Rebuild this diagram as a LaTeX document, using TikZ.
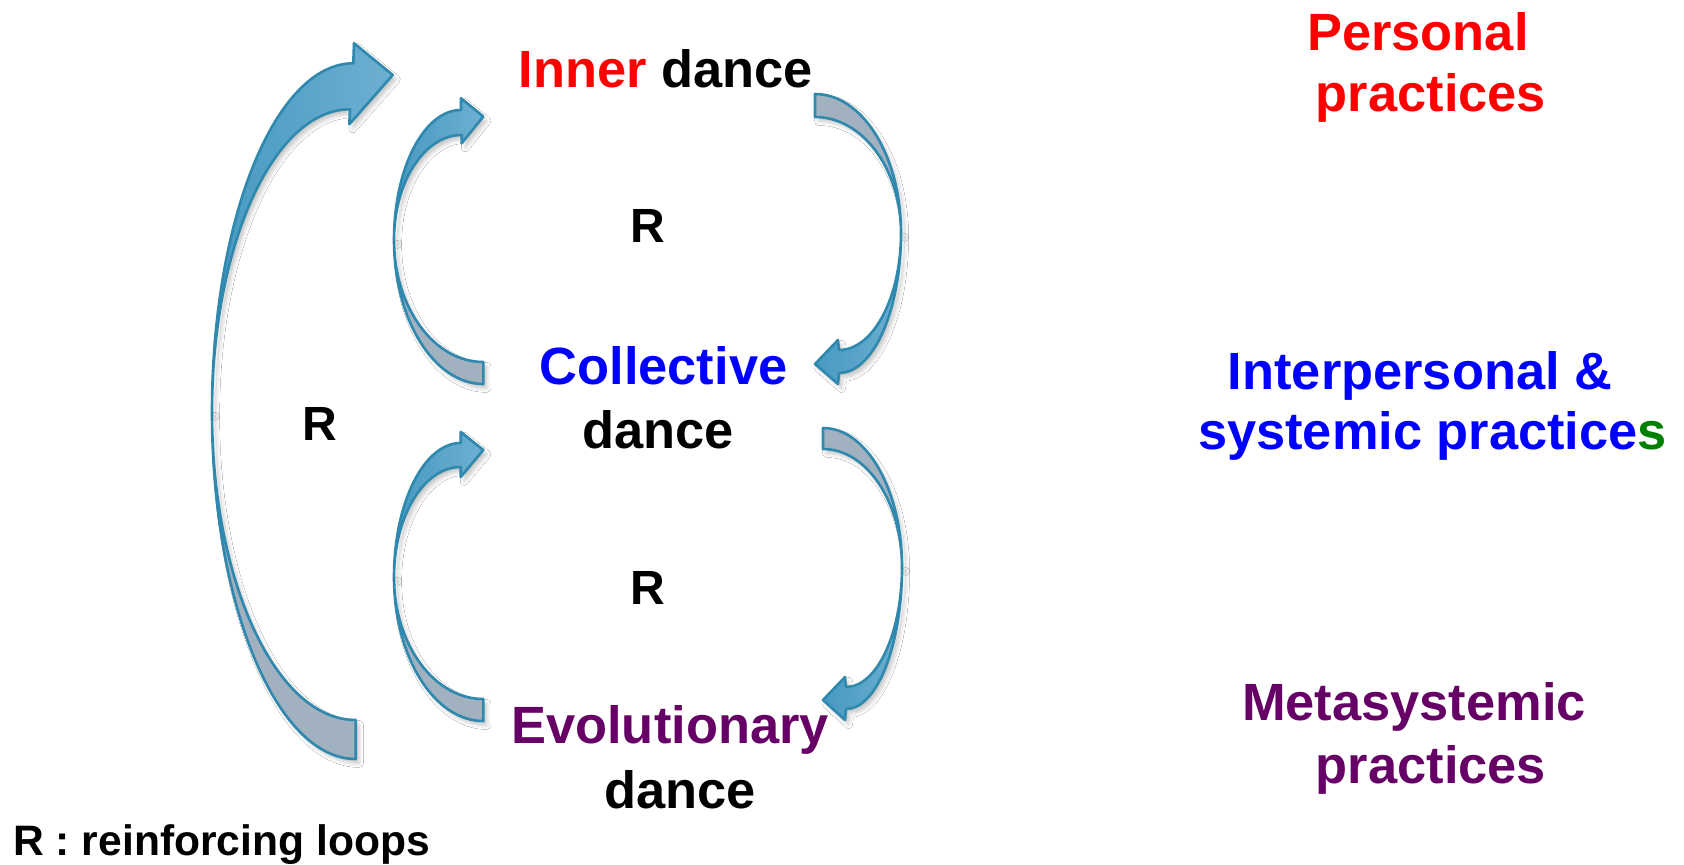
\documentclass[tikz,border=0pt]{standalone}
\usepackage{fontspec}
\setmainfont{Liberation Sans}
\usetikzlibrary{shadows.blur}
\definecolor{arrowblue}{HTML}{4799C1}
\definecolor{arrowlight}{HTML}{6DB0D1}
\definecolor{arrowgrey}{HTML}{A1B1BF}
\definecolor{arrowline}{HTML}{2F88AE}
\definecolor{tred}{HTML}{FF0000}
\definecolor{tblue}{HTML}{0000FF}
\definecolor{tpurple}{HTML}{660066}
\definecolor{tgreen}{HTML}{008000}
\begin{document}
\begin{tikzpicture}[x=0.5pt,y=-0.5pt,
  arrowshadow/.style={blur shadow={shadow xshift=1.8pt, shadow yshift=-2.2pt, shadow opacity=22, shadow blur radius=2pt}},
  front/.style={draw=arrowline, line width=1.3pt, line join=round, left color=arrowblue, right color=arrowlight, arrowshadow},
  back/.style={draw=arrowline, line width=1.3pt, line join=round, fill=arrowgrey, arrowshadow},
  lbl/.style={font=\fontsize{26.2}{31}\selectfont\bfseries, inner sep=0pt, anchor=base},
  rlbl/.style={font=\fontsize{24}{28}\selectfont\bfseries, inner sep=0pt, anchor=base},
  leg/.style={font=\fontsize{21.3}{25}\selectfont\bfseries, inner sep=0pt, anchor=base west}
]
\useasboundingbox[fill=white] (0,0) rectangle (1684,865);

% ---- big left arrow (Evolutionary -> Inner)
\path[back] (212,412) arc[start angle=180,end angle=90,x radius=143.7,y radius=347]
  -- (355.7,720) arc[start angle=90,end angle=180,x radius=143.7,y radius=308] -- cycle;
\path[front] (212,412) arc[start angle=180,end angle=270,x radius=141.3,y radius=348.7]
  -- (354,43.3) -- (392.7,75) -- (349.3,124.3) -- (350,109.3)
  arc[start angle=270,end angle=180,x radius=138,y radius=302.7] -- cycle;

% ---- upper left small arrow (Collective -> Inner)
\path[back] (394,240) arc[start angle=180,end angle=90,x radius=89.3,y radius=144]
  -- (483.3,362) arc[start angle=90,end angle=180,x radius=89.3,y radius=122] -- cycle;
\path[front] (394,240) arc[start angle=180,end angle=270,x radius=67,y radius=130]
  -- (461,98.3) -- (483.3,116.5) -- (461.7,143.3) -- (461.7,135)
  arc[start angle=270,end angle=180,x radius=67.7,y radius=105] -- cycle;

% ---- lower left small arrow (Evolutionary -> Collective)
\path[back] (394,577) arc[start angle=180,end angle=90,x radius=89.3,y radius=144]
  -- (483.3,699) arc[start angle=90,end angle=180,x radius=89.3,y radius=122] -- cycle;
\path[front] (394,577) arc[start angle=180,end angle=270,x radius=66.7,y radius=134]
  -- (460.7,432) -- (483.3,450) -- (460.7,477) -- (460.7,467)
  arc[start angle=270,end angle=180,x radius=66.7,y radius=110] -- cycle;

% ---- upper right small arrow (Inner -> Collective)
\path[back] (901,233) arc[start angle=0,end angle=-90,x radius=86,y radius=139]
  -- (815,117) arc[start angle=-90,end angle=0,x radius=86,y radius=116] -- cycle;
\path[front] (901,233) arc[start angle=0,end angle=90,x radius=62,y radius=140]
  -- (838,384) -- (815,364) -- (838,340) -- (839,350)
  arc[start angle=90,end angle=0,x radius=62,y radius=117] -- cycle;

% ---- lower right small arrow (Collective -> Evolutionary)
\path[back] (902,567) arc[start angle=0,end angle=-90,x radius=79,y radius=139]
  -- (823,449) arc[start angle=-90,end angle=0,x radius=79,y radius=118] -- cycle;
\path[front] (902,567) arc[start angle=0,end angle=90,x radius=56,y radius=142]
  -- (845,720) -- (823,700) -- (845,677) -- (846,687)
  arc[start angle=90,end angle=0,x radius=56,y radius=120] -- cycle;

% ---- texts
\node[lbl] (inner) at (666,88) {\textcolor{tred}{Inner} dance};
\node[lbl,text=tblue] (coll) at (663.5,385) {Collective};
\node[lbl] (colld) at (658,448) {dance};
\node[lbl,text=tpurple] (evo) at (670,743) {Evolutionary};
\node[lbl] (evod) at (680,808) {dance};

\node[lbl,text=tred] (pers) at (1418,51) {Personal};
\node[lbl,text=tred] (persp) at (1431,112) {practices};
\node[lbl,text=tblue] (inter) at (1420,390) {Interpersonal \&};
\node[lbl,text=tblue] (sys) at (1432.5,450) {systemic practice\textcolor{tgreen}{s}};
\node[lbl,text=tpurple] (meta) at (1414,720) {Metasystemic};
\node[lbl,text=tpurple] (metap) at (1431,783) {practices};

\node[rlbl] (r1) at (648,243) {R};
\node[rlbl] (r2) at (320,440) {R};
\node[rlbl] (r3) at (648,604) {R};

\node[leg] (legend) at (13,855) {R : reinforcing loops};
\end{tikzpicture}
\end{document}
